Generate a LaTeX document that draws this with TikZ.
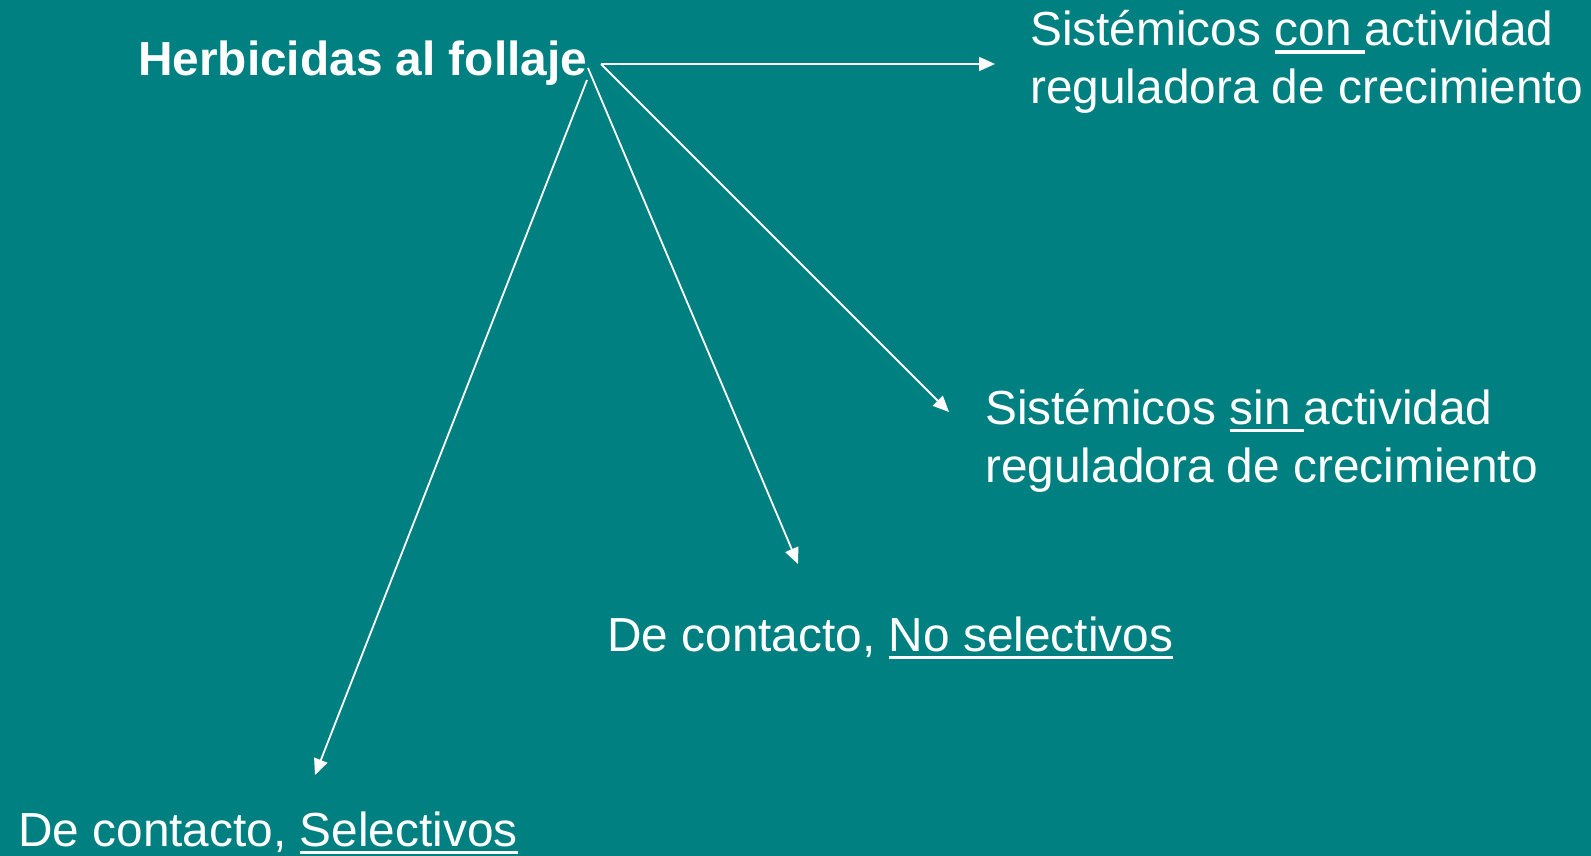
\documentclass[tikz,border=0pt]{standalone}
\usepackage{fontspec}
\setmainfont{Liberation Sans}
\usetikzlibrary{arrows.meta}
\definecolor{bg}{RGB}{0,128,128}
\newcommand{\ulx}[1]{\setbox0\hbox{#1}\rlap{\rule[-8pt]{\wd0}{3.5pt}}\box0}
\tikzset{
  lbl/.style={anchor=base west, inner sep=0pt, text=white, font=\fontsize{47.8}{58}\selectfont},
  conn/.style={draw=white, line width=1.8pt, -{Triangle[length=16pt,width=14pt]}}
}
\begin{document}
\begin{tikzpicture}[x=1pt,y=-1pt]
\fill[bg] (0,0) rectangle (1591,856);
\useasboundingbox (0,0) rectangle (1591,856);

\node[lbl, font=\fontsize{47.8}{58}\selectfont\bfseries] (title) at (138,76) {Herbicidas al follaje};
\node[lbl] (t1) at (1030,46) {\begin{tabular}[t]{@{}l@{}}Sistémicos \ulx{con }actividad\\reguladora de crecimiento\end{tabular}};
\node[lbl] (t2) at (985,424) {\begin{tabular}[t]{@{}l@{}}Sistémicos \ulx{sin }actividad\\reguladora de crecimiento\end{tabular}};
\node[lbl] (t3) at (607,651) {De contacto, \ulx{No selectivos}};
\node[lbl] (t4) at (18,846) {De contacto, \ulx{Selectivos}};

\coordinate (o1) at (601,64);
\coordinate (o3) at (588,68);
\coordinate (o4) at (587,80);
\coordinate (e1) at (995,64);
\coordinate (e2) at (949,412);
\coordinate (e3) at (798,564);
\coordinate (e4) at (315,775);

\draw[conn] (o1) -- (e1);
\draw[conn] (o1) -- (e2);
\draw[conn] (o3) -- (e3);
\draw[conn] (o4) -- (e4);
\end{tikzpicture}
\end{document}
